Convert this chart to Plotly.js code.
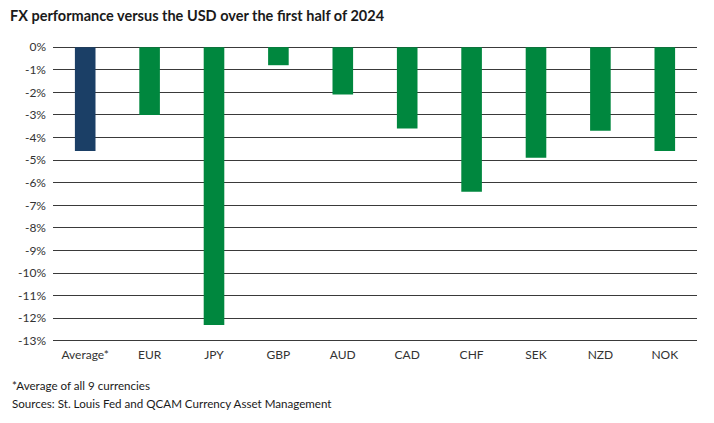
<!DOCTYPE html>
<html>
<head>
<meta charset="utf-8">
<script src="https://cdn.plot.ly/plotly-3.0.1.min.js"></script>
<style>
  html, body { margin: 0; padding: 0; background: #fff; }
  #chart { width: 714px; height: 423px; }
</style>
</head>
<body>
<div id="chart"></div>
<script>
// currency performance vs USD, H1 2024 (percent)
const currencies = ['Average*', 'EUR', 'JPY', 'GBP', 'AUD', 'CAD', 'CHF', 'SEK', 'NZD', 'NOK'];
const changePct = [-4.6, -3.0, -12.3, -0.8, -2.1, -3.6, -6.4, -4.9, -3.7, -4.6];
const yTicks = [0, -1, -2, -3, -4, -5, -6, -7, -8, -9, -10, -11, -12, -13];

const NAVY = '#1b3f66';
const GREEN = '#00873e';
const TXT = '#333333';
const FONT = 'Lato, "Open Sans", sans-serif';

const W = 714, H = 423;
const margin = { l: 53, r: 17, t: 46, b: 81 };
const px = (x) => (x - margin.l) / (W - margin.l - margin.r);
const py = (y) => (H - margin.b - y) / (H - margin.t - margin.b);

const trace = {
  type: 'bar',
  x: currencies,
  y: changePct,
  marker: { color: currencies.map((c, i) => i === 0 ? NAVY : GREEN), line: { width: 0 } },
  hoverinfo: 'x+y'
};

const layout = {
  width: W, height: H,
  margin,
  paper_bgcolor: '#fff', plot_bgcolor: '#fff',
  font: { family: FONT, color: TXT, size: 12 },
  showlegend: false,
  bargap: 0.68,
  title: {
    text: '<b>FX performance versus the USD over the first half of 2024</b>',
    xref: 'container', yref: 'container',
    x: 10 / W, xanchor: 'left',
    y: 1 - 16 / H, yanchor: 'middle',
    font: { family: FONT, size: 14.5, color: '#1a1a1a' }
  },
  xaxis: {
    type: 'category',
    showgrid: false, zeroline: false, showline: false, ticks: '',
    tickfont: { family: FONT, size: 12, color: TXT },
    ticklabelstandoff: 4
  },
  yaxis: {
    range: [-13.05, 0.05],
    tickmode: 'array',
    tickvals: yTicks,
    ticktext: yTicks.map(v => v + '%'),
    showgrid: true, gridcolor: '#3a3a3a', gridwidth: 1,
    zeroline: false, showline: false, ticks: '',
    tickfont: { family: FONT, size: 12, color: TXT },
    ticklabelstandoff: 6
  },
  annotations: [
    {
      text: '*Average of all 9 currencies',
      xref: 'paper', yref: 'paper', x: px(10), y: py(385),
      xanchor: 'left', yanchor: 'middle', showarrow: false,
      font: { family: FONT, size: 11.6, color: '#1a1a1a' }
    },
    {
      text: 'Sources: St. Louis Fed and QCAM Currency Asset Management',
      xref: 'paper', yref: 'paper', x: px(10), y: py(403),
      xanchor: 'left', yanchor: 'middle', showarrow: false,
      font: { family: FONT, size: 11.6, color: '#1a1a1a' }
    }
  ]
};

Plotly.newPlot('chart', [trace], layout, { displayModeBar: false, responsive: false });
</script>
</body>
</html>
